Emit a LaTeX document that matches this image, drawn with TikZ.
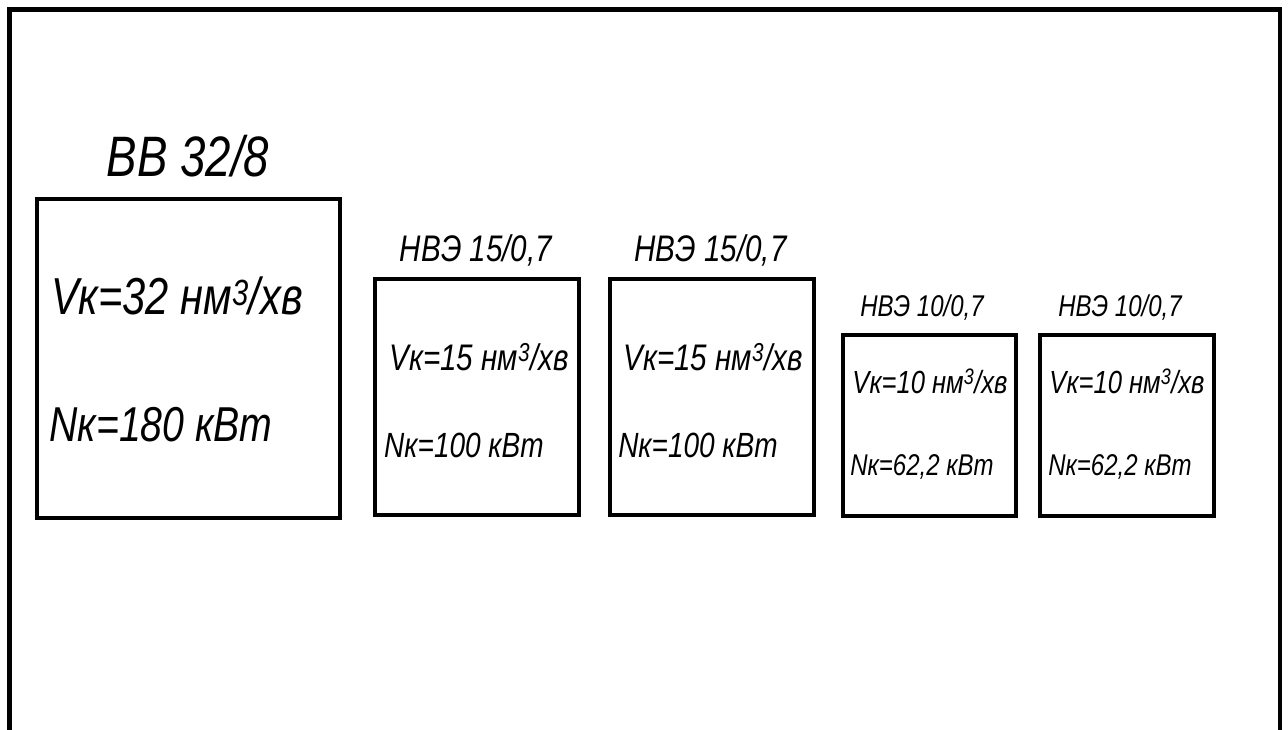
\documentclass[tikz,border=0pt]{standalone}
\usepackage{fontspec}
\newfontfamily\gost{Liberation Sans}[FakeStretch=0.8]
\begin{document}
\begin{tikzpicture}[x=1pt,y=-1pt,
  box/.style={draw=black, line width=4pt, rectangle, inner sep=0pt},
  lbl/.style={inner sep=0pt, anchor=center, font=\gost\itshape}]
\useasboundingbox (0,0) rectangle (1288,730);
% outer frame (open at bottom)
\coordinate (fbl) at (9.5,735);
\coordinate (ftl) at (9.5,9.5);
\coordinate (ftr) at (1280,9.5);
\coordinate (fbr) at (1280,735);
\draw[line width=4.5pt, line join=miter] (fbl) -- (ftl) -- (ftr) -- (fbr);
% boxes
\node[box, minimum width=303pt, minimum height=319pt] (b1) at (188.5,358.5) {};
\node[box, minimum width=204pt, minimum height=236pt] (b2) at (477,397) {};
\node[box, minimum width=204pt, minimum height=236pt] (b3) at (712,397) {};
\node[box, minimum width=173pt, minimum height=181pt] (b4) at (929.5,425.5) {};
\node[box, minimum width=174pt, minimum height=181pt] (b5) at (1127,425.5) {};
% titles
\node[lbl, font=\gost\itshape\fontsize{57}{57}\selectfont] (t1) at (188,156) {ВВ 32/8};
\node[lbl, font=\gost\itshape\fontsize{37}{37}\selectfont] (t2) at (476,250) {НВЭ 15/0,7};
\node[lbl, font=\gost\itshape\fontsize{37}{37}\selectfont] (t3) at (710.5,250) {НВЭ 15/0,7};
\node[lbl, font=\gost\itshape\fontsize{30}{30}\selectfont] (t4) at (922,308) {НВЭ 10/0,7};
\node[lbl, font=\gost\itshape\fontsize{30}{30}\selectfont] (t5) at (1120,308) {НВЭ 10/0,7};
% box 1
\node[lbl, font=\gost\itshape\fontsize{52}{52}\selectfont] (v1) at (177,296) {Vк=32 нм\textsuperscript{3}/хв};
\node[lbl, font=\gost\itshape\fontsize{49}{49}\selectfont] (n1) at (161,425) {Nк=180 кВт};
% box 2
\node[lbl, font=\gost\itshape\fontsize{37}{37}\selectfont] (v2) at (479,357) {Vк=15 нм\textsuperscript{3}/хв};
\node[lbl, font=\gost\itshape\fontsize{35}{35}\selectfont] (n2) at (464,445) {Nк=100 кВт};
% box 3
\node[lbl, font=\gost\itshape\fontsize{37}{37}\selectfont] (v3) at (713,357) {Vк=15 нм\textsuperscript{3}/хв};
\node[lbl, font=\gost\itshape\fontsize{35}{35}\selectfont] (n3) at (698,445) {Nк=100 кВт};
% box 4
\node[lbl, font=\gost\itshape\fontsize{32}{32}\selectfont] (v4) at (930,381) {Vк=10 нм\textsuperscript{3}/хв};
\node[lbl, font=\gost\itshape\fontsize{30}{30}\selectfont] (n4) at (922,467) {Nк=62,2 кВт};
% box 5
\node[lbl, font=\gost\itshape\fontsize{32}{32}\selectfont] (v5) at (1127,381) {Vк=10 нм\textsuperscript{3}/хв};
\node[lbl, font=\gost\itshape\fontsize{30}{30}\selectfont] (n5) at (1120,467) {Nк=62,2 кВт};
\end{tikzpicture}
\end{document}
